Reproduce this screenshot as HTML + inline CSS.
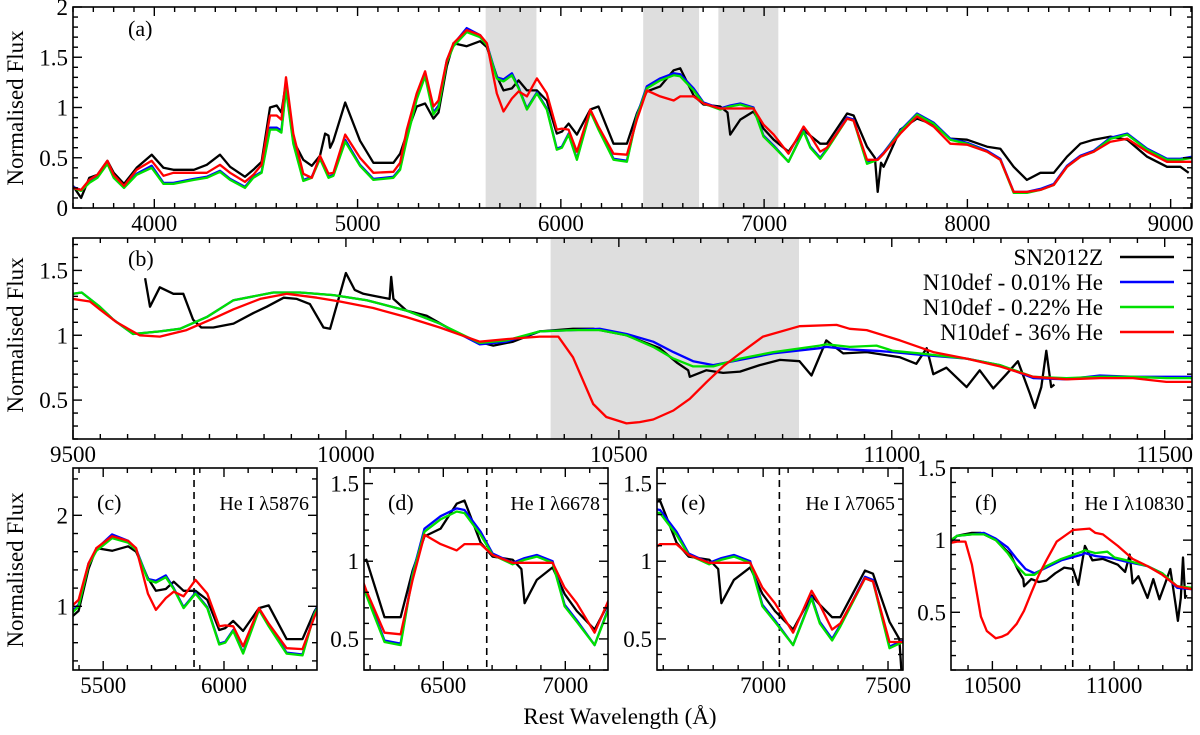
<!DOCTYPE html>
<html><head><meta charset="utf-8">
<style>
html,body{margin:0;padding:0;background:#fff;}
svg{display:block;}
svg text{font-family:"Liberation Serif","Times New Roman",serif !important;}
</style></head>
<body>
<svg id="fig" width="1200" height="735" viewBox="0 0 1200 735" xmlns="http://www.w3.org/2000/svg" font-family="Liberation Serif, serif"></svg>
<script>
// ---- Panel (a)/(c)/(d)/(e) optical spectra: wavelength (Å) & normalised flux ----
const aBlackW=[3600,3640,3680,3720,3769,3800,3851,3913,3987,4045,4094,4195,4258,4323,4373,4446,4487,4528,4569,4602,4625,4648,4684,4733,4775,4815,4840,4857,4865,4881,4939,5012,5078,5176,5209,5242,5291,5332,5373,5398,5439,5472,5537,5603,5636,5685,5718,5759,5792,5833,5882,5931,5980,6005,6038,6079,6145,6185,6259,6325,6374,6423,6489,6555,6587,6653,6702,6784,6820,6833,6883,6948,6997,7047,7120,7194,7227,7276,7309,7408,7440,7506,7545,7559,7575,7588,7670,7752,7834,7916,7998,8097,8162,8228,8293,8359,8425,8490,8556,8622,8704,8786,8884,8982,9048,9089];
const aBlackF=[.22,.1,.3,.33,.47,.35,.24,.4,.53,.4,.38,.38,.43,.53,.41,.31,.38,.46,1.0,1.02,.95,1.25,.67,.48,.42,.52,.74,.72,.6,.67,1.05,.67,.45,.45,.54,.74,1.01,1.04,.89,.95,1.41,1.64,1.61,1.66,1.6,1.31,1.17,1.19,1.27,1.17,1.17,1.07,.74,.76,.84,.73,.98,1.01,.64,.64,.94,1.16,1.21,1.37,1.39,1.12,1.03,1.01,.95,.73,.88,.96,.79,.68,.56,.78,.72,.64,.64,.94,.92,.61,.5,.16,.45,.41,.78,.89,.83,.69,.68,.61,.59,.41,.28,.35,.35,.51,.64,.68,.71,.68,.51,.41,.41,.35];
const aModW=[3600,3640,3680,3720,3769,3800,3851,3913,3987,4045,4094,4195,4258,4323,4373,4446,4487,4528,4569,4602,4625,4648,4684,4733,4775,4815,4857,4881,4939,5012,5078,5176,5209,5242,5291,5332,5373,5398,5439,5472,5537,5603,5636,5685,5718,5759,5792,5833,5882,5931,5980,6005,6038,6079,6145,6185,6259,6325,6374,6423,6489,6555,6587,6653,6702,6784,6833,6883,6948,6997,7047,7120,7194,7227,7276,7309,7408,7440,7506,7559,7588,7670,7752,7834,7916,7998,8097,8162,8228,8293,8359,8425,8490,8556,8622,8704,8786,8884,8982,9048,9105];
const aRedF=[.2,.18,.28,.33,.47,.33,.22,.38,.47,.32,.35,.35,.35,.43,.35,.26,.33,.43,.92,.92,.88,1.3,.74,.34,.3,.52,.34,.35,.73,.5,.35,.36,.45,.78,1.14,1.36,1.01,1.07,1.47,1.64,1.77,1.72,1.64,1.14,.96,1.09,1.16,1.11,1.29,1.14,.78,.79,.78,.56,.98,.81,.54,.53,.88,1.17,1.11,1.07,1.11,1.11,1.04,.99,.99,.99,.99,.83,.73,.54,.81,.72,.56,.6,.89,.87,.48,.48,.54,.74,.91,.81,.64,.63,.56,.48,.16,.16,.18,.23,.41,.51,.56,.66,.69,.56,.46,.46,.46];
const aGreenF=[.2,.17,.25,.3,.44,.3,.2,.33,.4,.24,.24,.28,.3,.36,.28,.2,.3,.35,.78,.78,.75,1.18,.64,.27,.3,.49,.3,.32,.66,.42,.28,.3,.38,.68,1.08,1.31,.93,1.0,1.45,1.61,1.75,1.7,1.62,1.29,1.26,1.32,1.19,.98,1.14,.98,.58,.6,.73,.48,.96,.78,.48,.46,.91,1.19,1.27,1.32,1.31,1.17,1.04,.98,1.01,1.03,.99,.71,.61,.46,.76,.6,.49,.58,.89,.87,.44,.48,.54,.76,.93,.84,.68,.64,.56,.48,.15,.15,.18,.23,.41,.51,.56,.69,.73,.58,.48,.48,.5];
const aBlueF=[.21,.18,.26,.31,.45,.31,.21,.34,.42,.25,.25,.29,.31,.37,.29,.21,.31,.36,.8,.8,.77,1.2,.66,.28,.31,.5,.31,.33,.68,.43,.29,.31,.39,.7,1.1,1.33,.95,1.02,1.47,1.63,1.79,1.72,1.63,1.3,1.28,1.34,1.2,.99,1.15,.99,.59,.61,.74,.49,.97,.8,.49,.47,.92,1.21,1.29,1.34,1.33,1.19,1.05,.99,1.02,1.04,1.0,.72,.62,.46,.77,.61,.5,.59,.9,.88,.45,.49,.55,.77,.94,.85,.69,.65,.57,.49,.16,.16,.19,.24,.42,.52,.57,.7,.74,.59,.49,.49,.51];
// ---- Panel (b)/(f) NIR spectra ----
const bBlackW=[9632,9641,9659,9684,9702,9720,9735,9757,9794,9830,9855,9886,9910,9934,9959,9971,10000,10016,10032,10056,10080,10083,10087,10111,10148,10190,10233,10270,10306,10355,10416,10453,10514,10575,10606,10627,10630,10660,10691,10722,10758,10795,10831,10853,10880,10911,10954,11015,11045,11064,11076,11100,11137,11161,11186,11210,11231,11253,11262,11274,11283,11292,11298];
const bBlackF=[1.44,1.22,1.37,1.32,1.32,1.12,1.06,1.06,1.09,1.17,1.22,1.29,1.28,1.24,1.06,1.05,1.48,1.35,1.32,1.3,1.28,1.45,1.28,1.19,1.15,1.05,.96,.92,.95,1.03,1.05,1.05,1.0,.9,.79,.73,.68,.73,.71,.72,.77,.81,.8,.69,.96,.86,.87,.83,.78,.9,.7,.75,.6,.73,.59,.7,.8,.55,.44,.6,.88,.6,.62];
const bGreenW=[9500,9516,9549,9574,9610,9659,9696,9745,9794,9867,9916,9977,10038,10111,10172,10245,10294,10355,10416,10465,10514,10563,10600,10636,10673,10722,10783,10868,10880,10923,10972,11002,11051,11137,11198,11259,11320,11381,11442,11503,11550];
const bGreenF=[1.32,1.33,1.22,1.12,1.01,1.03,1.05,1.14,1.27,1.33,1.33,1.31,1.27,1.19,1.09,.94,.96,1.03,1.04,1.04,1.0,.91,.82,.76,.76,.82,.87,.92,.93,.91,.92,.88,.86,.82,.77,.68,.67,.68,.68,.67,.67];
const bBlueF=[1.32,1.33,1.22,1.12,1.01,1.03,1.05,1.14,1.27,1.33,1.33,1.31,1.27,1.19,1.09,.93,.95,1.03,1.04,1.05,1.01,.95,.87,.8,.77,.81,.86,.9,.91,.89,.88,.87,.85,.82,.77,.67,.66,.69,.68,.68,.68];
const bRedW=[9500,9531,9549,9580,9622,9659,9708,9763,9794,9843,9892,9947,9989,10050,10111,10172,10245,10294,10355,10389,10416,10453,10477,10514,10538,10563,10600,10630,10661,10691,10722,10764,10831,10899,10923,10954,11015,11076,11137,11198,11259,11320,11381,11442,11503,11550];
const bRedF=[1.28,1.26,1.2,1.1,1.0,.99,1.04,1.14,1.2,1.28,1.32,1.29,1.26,1.21,1.14,1.06,.95,.97,.99,.99,.83,.47,.37,.32,.33,.35,.42,.51,.64,.76,.86,.99,1.07,1.08,1.05,1.04,.96,.87,.82,.76,.68,.66,.67,.67,.64,.64];
// ---- tick labels ----
const aXTicks=[4000,5000,6000,7000,8000,9000], aYTicks=[0,0.5,1,1.5,2];
const bXTicks=[9500,10000,10500,11000,11500], bYTicks=[0.5,1,1.5];
const cXTicks=[5500,6000], cYTicks=[1,2];
const dXTicks=[6500,7000], dYTicks=[0.5,1,1.5];
const eXTicks=[7000,7500], eYTicks=[0.5,1,1.5];
const fXTicks=[10500,11000], fYTicks=[0.5,1,1.5];
const aBands=[[5630,5880],[6405,6680],[6775,7070]], bBands=[[10375,10830]];
const legendLabels=["SN2012Z","N10def - 0.01% He","N10def - 0.22% He","N10def -    36% He"];

const NS="http://www.w3.org/2000/svg";
const svg=document.getElementById('fig');
const FF='Liberation Serif, Times New Roman, serif';
function mk(tag,attrs,parent){const e=document.createElementNS(NS,tag);for(const k in attrs)e.setAttribute(k,attrs[k]);if(tag==='text')e.setAttribute('font-family',FF);(parent||svg).appendChild(e);return e;}
const COL={black:'#000',blue:'#0000ff',green:'#00e000',red:'#ff0000'};
const optical={black:[aBlackW,aBlackF],blue:[aModW,aBlueF],green:[aModW,aGreenF],red:[aModW,aRedF]};
const nir={black:[bBlackW,bBlackF],blue:[bGreenW,bBlueF],green:[bGreenW,bGreenF],red:[bRedW,bRedF]};
const panels=[
 {id:'a',x0:73,x1:1192,y0:7,y1:208,xa:3600,xb:9105,ya:0,yb:2,xmaj:1000,xmin:100,ymin:0.1,xt:aXTicks,yt:aYTicks,d:optical,bands:aBands,lab:'(a)',lx:128,ly:36},
 {id:'b',x0:73,x1:1192,y0:238,y1:439,xa:9500,xb:11550,ya:0.2,yb:1.75,xmaj:500,xmin:50,ymin:0.1,xt:bXTicks,yt:bYTicks,d:nir,bands:bBands,lab:'(b)',lx:128,ly:266},
 {id:'c',x0:73,x1:317,y0:468,y1:670,xa:5375,xb:6385,ya:0.3,yb:2.52,xmaj:500,xmin:100,ymin:0.2,xt:cXTicks,yt:cYTicks,d:optical,dash:5876,lab:'(c)',lx:97,ly:510,he:'He I λ5876'},
 {id:'d',x0:364,x1:608,y0:468,y1:670,xa:6175,xb:7175,ya:0.3,yb:1.6,xmaj:500,xmin:100,ymin:0.1,xt:dXTicks,yt:dYTicks,d:optical,dash:6678,lab:'(d)',lx:388,ly:510,he:'He I λ6678'},
 {id:'e',x0:657,x1:903,y0:468,y1:670,xa:6575,xb:7560,ya:0.3,yb:1.6,xmaj:500,xmin:100,ymin:0.1,xt:eXTicks,yt:eYTicks,d:optical,dash:7065,lab:'(e)',lx:681,ly:510,he:'He I λ7065'},
 {id:'f',x0:951,x1:1192,y0:468,y1:670,xa:10330,xb:11320,ya:0.1,yb:1.5,xmaj:500,xmin:100,ymin:0.1,xt:fXTicks,yt:fYTicks,d:nir,dash:10830,lab:'(f)',lx:975,ly:510,he:'He I λ10830'}
];
const defs=mk('defs',{});
panels.forEach(p=>{
  const X=v=>p.x0+(v-p.xa)/(p.xb-p.xa)*(p.x1-p.x0);
  const Y=v=>p.y1-(v-p.ya)/(p.yb-p.ya)*(p.y1-p.y0);
  const g=mk('g',{});
  
  
  const cp=mk('clipPath',{id:'clip'+p.id},defs);
  mk('rect',{x:p.x0,y:p.y0,width:p.x1-p.x0,height:p.y1-p.y0},cp);
  (p.bands||[]).forEach((b,i)=>{
    const r=mk('rect',{x:X(b[0]),y:p.y0,width:X(b[1])-X(b[0]),height:p.y1-p.y0,fill:'#dedede'},g);
    
    
  });
  if(p.dash){
    const l=mk('line',{x1:X(p.dash),x2:X(p.dash),y1:p.y0,y2:p.y1,stroke:'#000','stroke-width':1.6,'stroke-dasharray':'7,5'},g);
    
    
  }
  const sg=mk('g',{'clip-path':'url(#clip'+p.id+')'},g);
  ['black','blue','green','red'].forEach(s=>{
    const [W,F]=p.d[s];
    let pts=W.map((w,i)=>X(w).toFixed(1)+','+Y(F[i]).toFixed(1)).join(' ');
    const pl=mk('polyline',{points:pts,fill:'none',stroke:COL[s],'stroke-width':2.3,'stroke-linejoin':'round'},sg);
    
    
  });
  const tk=mk('g',{stroke:'#000','stroke-width':1.4},g);
  for(let v=Math.ceil(p.xa/p.xmin)*p.xmin;v<=p.xb;v+=p.xmin){
    const maj=Math.abs(v/p.xmaj-Math.round(v/p.xmaj))<1e-6, L=maj?9:5, x=X(v);
    mk('line',{x1:x,x2:x,y1:p.y1,y2:p.y1-L},tk);mk('line',{x1:x,x2:x,y1:p.y0,y2:p.y0+L},tk);
  }
  for(let k=Math.ceil(p.ya/p.ymin-1e-6);k*p.ymin<=p.yb+1e-6;k++){
    const v=k*p.ymin, maj=Math.abs(v*2-Math.round(v*2))<1e-6 && (p.id!=='c'||Math.abs(v-Math.round(v))<1e-6), L=maj?9:5, y=Y(v);
    mk('line',{x1:p.x0,x2:p.x0+L,y1:y,y2:y},tk);mk('line',{x1:p.x1,x2:p.x1-L,y1:y,y2:y},tk);
  }
  const fr=mk('rect',{x:p.x0,y:p.y0,width:p.x1-p.x0,height:p.y1-p.y0,fill:'none',stroke:'#000','stroke-width':1.6},g);
  
  
  p.xt.forEach(v=>{const t=mk('text',{x:X(v),y:p.y1+23,'font-size':23,'text-anchor':'middle'},g);t.textContent=v;
    });
  p.yt.forEach(v=>{const t=mk('text',{x:p.x0-5,y:Y(v)+8,'font-size':23,'text-anchor':'end'},g);t.textContent=v;
    });
  const lt=mk('text',{x:p.lx,y:p.ly,'font-size':22},g);lt.textContent=p.lab;
  
  if(p.he){const h=mk('text',{x:p.x1-8,y:p.ly,'font-size':20,'text-anchor':'end'},g);h.textContent=p.he;
    }
});
[108,335,570].forEach(cy=>{
  const t=mk('text',{x:0,y:0,'font-size':23,'text-anchor':'middle',transform:'translate(23,'+cy+') rotate(-90)'});
  t.textContent='Normalised Flux';
  
  
});
const xt=mk('text',{x:620,y:724,'font-size':23,'text-anchor':'middle'});
xt.textContent='Rest Wavelength (Å)';


const lg=mk('g',{});


['black','blue','green','red'].forEach((s,i)=>{
  const y=257+i*25;
  const t=mk('text',{x:1103,y:y+8,'font-size':23,'text-anchor':'end','xml:space':'preserve'},lg);
  t.textContent=legendLabels[i];
  
  
  const l=mk('line',{x1:1120,x2:1174,y1:y,y2:y,stroke:COL[s],'stroke-width':2.5},lg);
  
  
});
</script>
</body></html>
